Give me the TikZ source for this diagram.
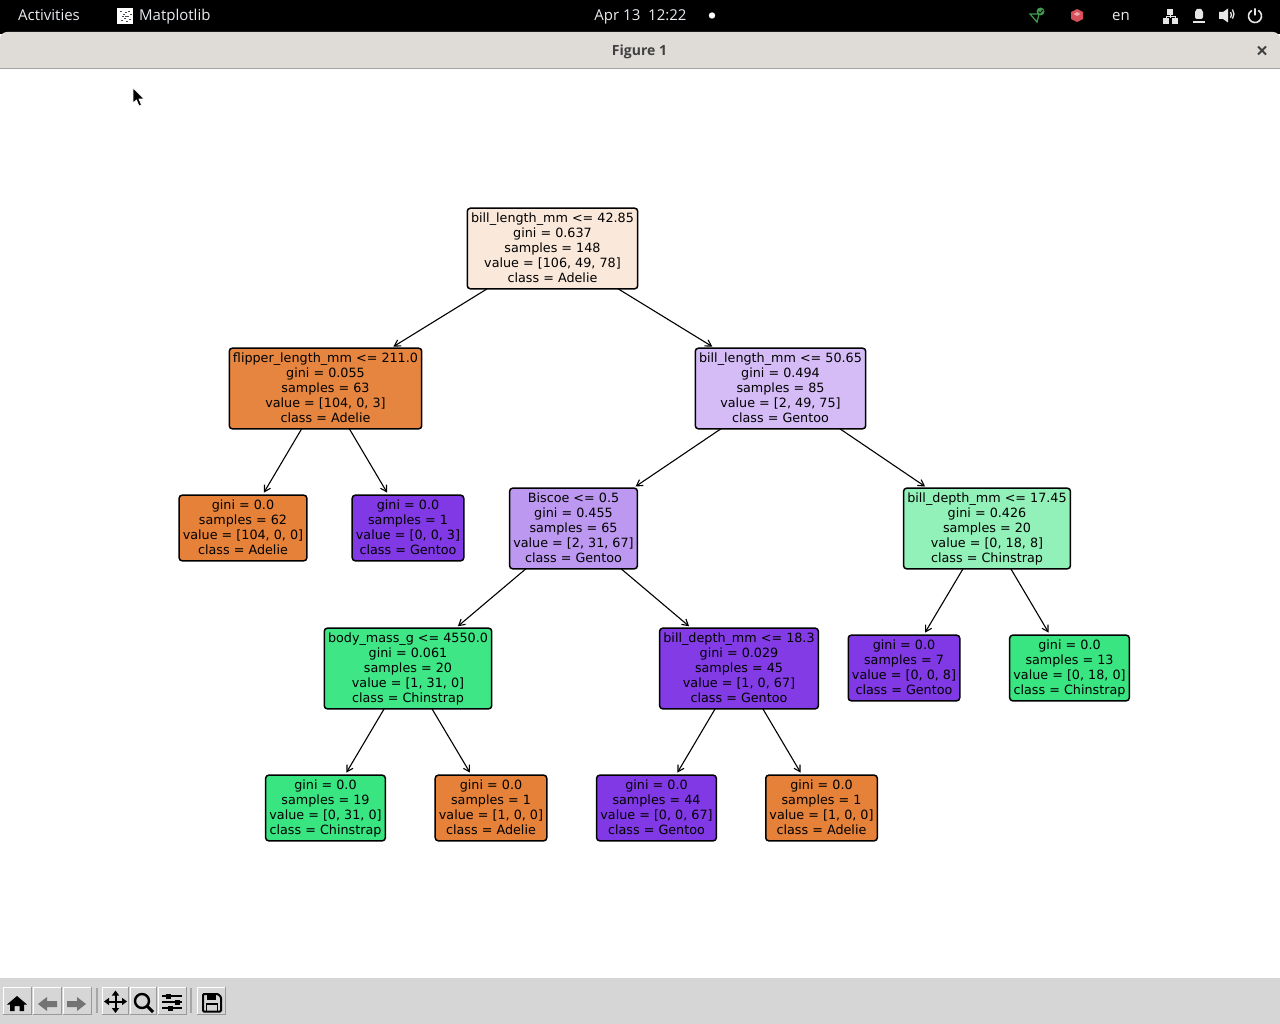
\documentclass[tikz,border=0pt]{standalone}
\usepackage{fontspec}
\setmainfont{DejaVu Sans}
\newfontfamily\barfont{Open Sans}
\usetikzlibrary{arrows.meta,positioning}
\definecolor{adelie}{HTML}{E58139}
\definecolor{chinstrap}{HTML}{39E581}
\definecolor{gentoo}{HTML}{8139E5}
\definecolor{rootfill}{HTML}{FAE8DB}
\definecolor{flipperfill}{HTML}{E68540}
\definecolor{lengthfill}{HTML}{D5BCF6}
\definecolor{biscoefill}{HTML}{BD98F1}
\definecolor{depthfill}{HTML}{91F1B9}
\definecolor{massfill}{HTML}{3FE685}
\definecolor{sharpfill}{HTML}{833CE5}
\definecolor{titlebar}{HTML}{DFDCD8}
\definecolor{toolbar}{HTML}{D6D6D6}
\definecolor{bartext}{HTML}{E8ECF0}
\definecolor{tagicon}{HTML}{3E9B4F}
\definecolor{cubeicon}{HTML}{D9505A}
\definecolor{baricon}{HTML}{E6E6E6}
\tikzset{treebox/.style={draw=black,line width=1.5pt,rounded corners=3pt,align=center,outer sep=0pt,
  minimum height=80.6pt,inner xsep=3.7pt,inner ysep=0pt,font=\fontsize{12.75}{15}\selectfont,
  execute at end node={\rule[-1.35pt]{0pt}{1.35pt}}},
  treeleaf/.style={treebox,minimum height=65.6pt},
  arrow/.style={-{Straight Barb[length=6pt,width=7pt]},line width=1.1pt,shorten >=3pt},
  bartxt/.style={text=bartext,inner sep=0pt,anchor=base,font=\barfont\fontsize{15}{17}\selectfont},
  toolbtn/.style={draw=white,fill=toolbar,line width=1pt},
  toolsep/.style={draw=gray!70,line width=1.2pt},
  icon/.style={fill=black,draw=none}}
\begin{document}
\begin{tikzpicture}[x=1pt,y=1pt,node distance=59.4pt]
\useasboundingbox (0,0) rectangle (1280,-1024);
\fill[black] (0,0) rectangle (1280,-34);
\fill[titlebar,rounded corners=7pt] (0,-68) -- (0,-32) -- (1280,-32) -- (1280,-68) -- cycle;
\fill[titlebar] (0,-50) rectangle (1280,-68);
\draw[gray!60!titlebar,line width=1pt] (0,-68.5) -- (1280,-68.5);
\fill[toolbar] (0,-978) rectangle (1280,-1024);
\node[bartxt,anchor=base west] (activities) at (18,-21) {Activities};
\node[bartxt,anchor=base west] (appname) at (139,-21) {Matplotlib};
\node[bartxt] (clock) at (640.5,-21) {Apr 13\hspace{4pt} 12:22};
\node[bartxt] (lang) at (1121,-21) {en};
\node[inner sep=0pt,anchor=base,font=\barfont\bfseries\fontsize{14}{16}\selectfont,text=black!75] (figtitle) at (639.5,-55.5) {Figure 1};
\fill[white] (117,-8) rectangle (133,-24);
\foreach \px/\py in {120/11,123/14,125/12,127/16,124/18,121/20,129/19,126/21,122/16,128/11,130/14,125/16}
  \fill[black!70] (\px,-\py) rectangle ++(1.5,-1.5);
\fill[white] (712,-15.5) circle (3.2);
\draw[black!75,line width=2pt] (1258,-46.5) -- (1266,-54.5) (1266,-46.5) -- (1258,-54.5);
\draw[tagicon,line width=1.2pt] (1030,-14) -- (1037,-22) -- (1039,-14) -- cycle;
\fill[tagicon] (1040.5,-11.5) circle (4);
\draw[black,line width=.8pt] (1038.5,-11.5) -- (1040,-13) -- (1043,-10);
\fill[cubeicon] (1077,-9) -- (1083,-12) -- (1083,-19) -- (1077,-22) -- (1071,-19) -- (1071,-12) -- cycle;
\fill[cubeicon!50!white] (1077,-12) -- (1080.5,-14) -- (1077,-16) -- (1073.5,-14) -- cycle;
\fill[baricon] (1167,-9) rectangle (1173,-15);
\fill[baricon] (1163,-18) rectangle (1169,-24);
\fill[baricon] (1172,-18) rectangle (1178,-24);
\draw[baricon,line width=1pt] (1170,-15) -- (1170,-18) (1166,-18) -- (1166,-16.5) -- (1175,-16.5) -- (1175,-18);
\fill[baricon,rounded corners=2pt] (1195,-19) -- (1195,-10) -- (1199,-8) -- (1203,-10) -- (1203,-19) -- cycle;
\fill[baricon] (1193,-21) rectangle (1205,-23);
\fill[baricon] (1219,-12) -- (1223,-12) -- (1228,-8.5) -- (1228,-22.5) -- (1223,-19) -- (1219,-19) -- cycle;
\draw[baricon,line width=1.3pt] (1230.5,-12) arc (35:-35:5) (1232.5,-9.5) arc (35:-35:8);
\draw[baricon,line width=1.6pt] (1258.25,-10.4) arc (60:-240:6.5) (1255,-8.5) -- (1255,-15.5);
\fill[black,draw=white,line width=.7pt] (133,-88) -- (133,-103) -- (136.5,-100) -- (139,-106) -- (141.5,-105) -- (139,-99) -- (144,-99) -- cycle;
\foreach \ax/\bx in {3/31,33/61,63/91,102/128,130/156,158/186,197/225}
  \draw[toolbtn] (\ax,-987) rectangle (\bx,-1014);
\foreach \ax/\bx in {3/31,33/61,63/91,102/128,130/156,158/186,197/225}
  \draw[gray!80,line width=1pt] (\bx,-987) -- (\bx,-1014) -- (\ax,-1014);
\draw[toolsep] (97,-988) -- (97,-1013);
\draw[toolsep] (191,-988) -- (191,-1013);
\fill[icon] (17,-996) -- (27,-1004.5) -- (24,-1004.5) -- (24,-1011) -- (19.5,-1011) -- (19.5,-1006) -- (14.5,-1006) -- (14.5,-1011) -- (10,-1011) -- (10,-1004.5) -- (7,-1004.5) -- cycle;
\fill[black!55] (38,-1004) -- (47,-997) -- (47,-1001) -- (57,-1001) -- (57,-1007) -- (47,-1007) -- (47,-1011) -- cycle;
\fill[black!55] (86,-1004) -- (77,-997) -- (77,-1001) -- (67,-1001) -- (67,-1007) -- (77,-1007) -- (77,-1011) -- cycle;
\draw[line width=2pt,{Triangle[length=5pt,width=7pt]}-{Triangle[length=5pt,width=7pt]}] (104,-1001.5) -- (127,-1001.5);
\draw[line width=2pt,{Triangle[length=5pt,width=7pt]}-{Triangle[length=5pt,width=7pt]}] (115.5,-990.5) -- (115.5,-1013);
\draw[line width=2.4pt] (142,-1001) circle (7);
\draw[line width=3pt] (147,-1006) -- (153,-1012);
\draw[line width=1.2pt] (162,-996) -- (182,-996) (162,-1002) -- (182,-1002) (162,-1008) -- (182,-1008);
\fill[icon] (166,-993.5) rectangle (171,-998.5);
\fill[icon] (175,-999.5) rectangle (180,-1004.5);
\fill[icon] (168,-1005.5) rectangle (173,-1010.5);
\draw[line width=2pt,rounded corners=1pt] (203,-994) -- (218,-994) -- (221,-997) -- (221,-1011.5) -- (203,-1011.5) -- cycle;
\fill[icon] (207,-994) rectangle (216,-1000);
\draw[line width=1.6pt] (206.5,-1011.5) rectangle (217.5,-1004);
\node[treebox,fill=rootfill] (root) at (552.5,-248.5) {bill\_length\_mm <= 42.85\\gini = 0.637\\samples = 148\\value = [106, 49, 78]\\class = Adelie};
\node[treebox,fill=flipperfill,below=of root,xshift=-227pt] (flipper) {flipper\_length\_mm <= 211.0\\gini = 0.055\\samples = 63\\value = [104, 0, 3]\\class = Adelie};
\node[treebox,fill=lengthfill,below=of root,xshift=228pt] (length) {bill\_length\_mm <= 50.65\\gini = 0.494\\samples = 85\\value = [2, 49, 75]\\class = Gentoo};
\node[treeleaf,fill=adelie,below=66.4pt of flipper,xshift=-82.5pt] (leafa) {gini = 0.0\\samples = 62\\value = [104, 0, 0]\\class = Adelie};
\node[treeleaf,fill=gentoo,below=66.4pt of flipper,xshift=82.5pt] (leafb) {gini = 0.0\\samples = 1\\value = [0, 0, 3]\\class = Gentoo};
\node[treebox,fill=biscoefill,below=of length,xshift=-207pt] (biscoe) {Biscoe <= 0.5\\gini = 0.455\\samples = 65\\value = [2, 31, 67]\\class = Gentoo};
\node[treebox,fill=depthfill,below=of length,xshift=206.5pt] (depth) {bill\_depth\_mm <= 17.45\\gini = 0.426\\samples = 20\\value = [0, 18, 8]\\class = Chinstrap};
\node[treeleaf,fill=gentoo,below=66.4pt of depth,xshift=-83pt] (leafc) {gini = 0.0\\samples = 7\\value = [0, 0, 8]\\class = Gentoo};
\node[treeleaf,fill=chinstrap,below=66.4pt of depth,xshift=82.5pt] (leafd) {gini = 0.0\\samples = 13\\value = [0, 18, 0]\\class = Chinstrap};
\node[treebox,fill=massfill,below=of biscoe,xshift=-165.5pt] (mass) {body\_mass\_g <= 4550.0\\gini = 0.061\\samples = 20\\value = [1, 31, 0]\\class = Chinstrap};
\node[treebox,fill=sharpfill,below=of biscoe,xshift=165.5pt] (sharp) {bill\_depth\_mm <= 18.3\\gini = 0.029\\samples = 45\\value = [1, 0, 67]\\class = Gentoo};
\node[treeleaf,fill=chinstrap,below=66.4pt of mass,xshift=-82.5pt] (leafe) {gini = 0.0\\samples = 19\\value = [0, 31, 0]\\class = Chinstrap};
\node[treeleaf,fill=adelie,below=66.4pt of mass,xshift=83pt] (leaff) {gini = 0.0\\samples = 1\\value = [1, 0, 0]\\class = Adelie};
\node[treeleaf,fill=gentoo,below=66.4pt of sharp,xshift=-82.5pt] (leafg) {gini = 0.0\\samples = 44\\value = [0, 0, 67]\\class = Gentoo};
\node[treeleaf,fill=adelie,below=66.4pt of sharp,xshift=82.5pt] (leafh) {gini = 0.0\\samples = 1\\value = [1, 0, 0]\\class = Adelie};
\draw[arrow] (root)--(flipper);\draw[arrow] (root)--(length);
\draw[arrow] (flipper)--(leafa);\draw[arrow] (flipper)--(leafb);
\draw[arrow] (length)--(biscoe);\draw[arrow] (length)--(depth);
\draw[arrow] (depth)--(leafc);\draw[arrow] (depth)--(leafd);
\draw[arrow] (biscoe)--(mass);\draw[arrow] (biscoe)--(sharp);
\draw[arrow] (mass)--(leafe);\draw[arrow] (mass)--(leaff);
\draw[arrow] (sharp)--(leafg);\draw[arrow] (sharp)--(leafh);
\end{tikzpicture}
\end{document}
